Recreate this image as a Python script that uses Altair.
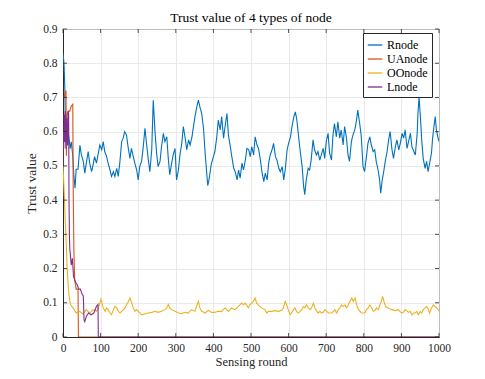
import altair as alt
import pandas as pd

# ---------------- data ----------------
r_rounds = [0, 1, 3, 5, 6, 9, 12, 15, 19, 22, 26, 29, 32, 35, 40, 45, 49, 54, 58, 62, 67, 71, 76, 80, 84, 89, 94, 98,
            103, 107, 111, 116, 120, 125, 129, 134, 138, 143, 147, 151, 156, 160, 164, 169, 173, 178, 182, 187, 191,
            196, 200, 204, 209, 213, 218, 222, 227, 231, 236, 240, 245, 249, 253, 258, 262, 267, 271, 276, 280, 284,
            289, 293, 298, 302, 307, 311, 316, 320, 325, 329, 334, 338, 343, 347, 351, 356, 360, 365, 369, 374, 378,
            383, 385, 389, 394, 400, 404, 409, 413, 418, 422, 427, 431, 436, 440, 445, 449, 454, 458, 463, 467, 471,
            476, 480, 485, 489, 494, 498, 502, 507, 511, 516, 520, 525, 529, 534, 538, 543, 547, 551, 556, 560, 565,
            569, 574, 578, 583, 587, 591, 596, 600, 605, 609, 614, 618, 622, 627, 631, 636, 640, 643, 647, 652, 656,
            660, 665, 669, 674, 678, 683, 687, 692, 696, 700, 705, 709, 714, 718, 722, 727, 731, 736, 740, 745, 749,
            754, 758, 762, 767, 771, 776, 780, 784, 789, 793, 798, 802, 807, 811, 816, 820, 825, 829, 833, 838, 842,
            845, 849, 853, 857, 862, 866, 870, 875, 879, 884, 888, 893, 897, 902, 906, 910, 915, 919, 924, 928, 933,
            937, 942, 944, 947, 951, 954, 958, 963, 967, 971, 976, 980, 983, 986, 990, 993, 997, 1000]
r_values = [0.83, 0.82, 0.79, 0.72, 0.62, 0.555, 0.58, 0.59, 0.55, 0.57, 0.53, 0.47, 0.435, 0.49, 0.49, 0.56, 0.532,
            0.513, 0.479, 0.508, 0.542, 0.508, 0.483, 0.503, 0.527, 0.508, 0.537, 0.561, 0.547, 0.571, 0.542, 0.527,
            0.508, 0.488, 0.469, 0.483, 0.469, 0.493, 0.469, 0.508, 0.571, 0.581, 0.600, 0.590, 0.556, 0.522, 0.551,
            0.527, 0.508, 0.488, 0.459, 0.498, 0.513, 0.551, 0.610, 0.566, 0.517, 0.483, 0.547, 0.692, 0.595, 0.537,
            0.498, 0.513, 0.556, 0.595, 0.571, 0.585, 0.522, 0.474, 0.508, 0.532, 0.551, 0.459, 0.488, 0.532, 0.566,
            0.615, 0.581, 0.547, 0.576, 0.561, 0.585, 0.615, 0.644, 0.673, 0.692, 0.668, 0.653, 0.605, 0.537, 0.469,
            0.442, 0.464, 0.503, 0.527, 0.542, 0.585, 0.634, 0.605, 0.644, 0.581, 0.615, 0.653, 0.590, 0.556, 0.527,
            0.493, 0.483, 0.459, 0.488, 0.464, 0.508, 0.488, 0.517, 0.551, 0.547, 0.527, 0.556, 0.532, 0.585, 0.561,
            0.551, 0.517, 0.483, 0.454, 0.479, 0.459, 0.508, 0.532, 0.547, 0.566, 0.527, 0.517, 0.493, 0.483, 0.498,
            0.459, 0.488, 0.547, 0.566, 0.585, 0.615, 0.644, 0.658, 0.634, 0.581, 0.542, 0.498, 0.440, 0.416, 0.459,
            0.493, 0.488, 0.517, 0.576, 0.547, 0.532, 0.542, 0.517, 0.532, 0.551, 0.522, 0.571, 0.595, 0.537, 0.517,
            0.590, 0.624, 0.585, 0.629, 0.581, 0.605, 0.561, 0.615, 0.581, 0.532, 0.513, 0.571, 0.590, 0.605, 0.629,
            0.663, 0.624, 0.590, 0.498, 0.483, 0.527, 0.566, 0.585, 0.561, 0.542, 0.547, 0.513, 0.488, 0.459, 0.420,
            0.459, 0.483, 0.513, 0.542, 0.576, 0.600, 0.547, 0.522, 0.556, 0.576, 0.547, 0.566, 0.595, 0.581, 0.605,
            0.551, 0.571, 0.595, 0.556, 0.542, 0.532, 0.595, 0.653, 0.702, 0.634, 0.576, 0.522, 0.493, 0.513, 0.483,
            0.513, 0.537, 0.581, 0.610, 0.644, 0.605, 0.585, 0.571]

ua_rounds = [0, 3, 6, 8, 9, 11, 14, 18, 22, 26, 27, 29, 31, 35, 40, 41, 1000]
ua_values = [0.70, 0.70, 0.715, 0.72, 0.53, 0.65, 0.66, 0.66, 0.675, 0.68, 0.45, 0.25, 0.17, 0.14, 0.14, 0.0, 0.0]

oo_rounds = [0, 2, 4, 6, 9, 11, 13, 16, 20, 27, 35, 44, 53, 62, 71, 80, 89, 94, 97, 101, 107, 112, 116, 120, 125,
             129, 134, 138, 143, 147, 152, 156, 161, 165, 169, 174, 178, 183, 187, 191, 196, 200, 205, 209, 218, 227,
             236, 245, 253, 262, 271, 276, 280, 284, 289, 298, 307, 315, 324, 333, 342, 351, 355, 360, 364, 369, 378,
             386, 395, 404, 413, 422, 426, 431, 440, 448, 457, 466, 475, 480, 484, 488, 493, 497, 506, 511, 515, 519,
             528, 537, 542, 546, 555, 564, 573, 582, 586, 591, 595, 599, 604, 608, 613, 617, 621, 626, 635, 639, 643,
             648, 652, 657, 661, 666, 670, 675, 679, 683, 688, 692, 697, 706, 715, 719, 723, 728, 732, 736, 741, 745,
             750, 754, 759, 763, 768, 772, 777, 781, 786, 790, 794, 803, 807, 812, 816, 821, 825, 830, 834, 839, 843,
             848, 850, 855, 858, 865, 874, 883, 892, 896, 901, 905, 910, 919, 923, 928, 932, 936, 941, 945, 950, 954,
             958, 963, 967, 972, 975, 980, 985, 989, 994, 998, 1000]
oo_values = [0.50, 0.45, 0.40, 0.34, 0.265, 0.20, 0.165, 0.12, 0.095, 0.085, 0.07, 0.075, 0.068, 0.08, 0.07, 0.08,
             0.075, 0.085, 0.095, 0.11, 0.085, 0.075, 0.085, 0.08, 0.07, 0.065, 0.08, 0.09, 0.085, 0.075, 0.07, 0.075,
             0.08, 0.085, 0.094, 0.104, 0.114, 0.099, 0.085, 0.075, 0.08, 0.075, 0.07, 0.065, 0.068, 0.07, 0.072,
             0.075, 0.072, 0.075, 0.08, 0.085, 0.095, 0.085, 0.08, 0.075, 0.07, 0.068, 0.072, 0.07, 0.08, 0.075, 0.089,
             0.104, 0.085, 0.075, 0.07, 0.078, 0.072, 0.072, 0.075, 0.075, 0.08, 0.085, 0.075, 0.085, 0.08, 0.089,
             0.099, 0.094, 0.099, 0.094, 0.085, 0.094, 0.104, 0.114, 0.099, 0.094, 0.085, 0.08, 0.07, 0.075, 0.075,
             0.077, 0.075, 0.078, 0.085, 0.104, 0.094, 0.08, 0.065, 0.07, 0.08, 0.085, 0.075, 0.07, 0.08, 0.089, 0.085,
             0.094, 0.085, 0.08, 0.085, 0.099, 0.085, 0.075, 0.07, 0.075, 0.07, 0.072, 0.08, 0.07, 0.07, 0.075, 0.08,
             0.07, 0.08, 0.085, 0.094, 0.089, 0.094, 0.085, 0.094, 0.104, 0.114, 0.104, 0.114, 0.094, 0.08, 0.075,
             0.07, 0.07, 0.08, 0.085, 0.094, 0.085, 0.075, 0.078, 0.085, 0.08, 0.094, 0.109, 0.119, 0.099, 0.089,
             0.085, 0.08, 0.077, 0.08, 0.075, 0.07, 0.072, 0.08, 0.072, 0.075, 0.065, 0.07, 0.07, 0.075, 0.065, 0.075,
             0.07, 0.08, 0.085, 0.089, 0.08, 0.07, 0.085, 0.094, 0.089, 0.085, 0.08, 0.075]

l_rounds = [0, 1, 2, 3, 5, 6, 8, 10, 12, 14, 15, 16, 17, 18, 20, 22, 25, 28, 33, 37, 42, 46, 51, 54, 56, 58, 62, 68,
            75, 82, 89, 93, 94, 1000]
l_values = [0.50, 0.60, 0.55, 0.65, 0.57, 0.66, 0.55, 0.64, 0.56, 0.66, 0.65, 0.40, 0.30, 0.26, 0.235, 0.21, 0.23,
            0.177, 0.16, 0.155, 0.14, 0.14, 0.125, 0.12, 0.05, 0.045, 0.06, 0.07, 0.065, 0.07, 0.09, 0.095, 0.0, 0.0]

series_names = ["Rnode", "UAnode", "OOnode", "Lnode"]
series_colors = ["#0072BD", "#D95319", "#EDB120", "#7E2F8E"]

x_ticks = [0, 100, 200, 300, 400, 500, 600, 700, 800, 900, 1000]
y_ticks = [0, 0.1, 0.2, 0.3, 0.4, 0.5, 0.6, 0.7, 0.8, 0.9]

# ---------------- build tables ----------------
rows = []
for name, rr, vv in [("Rnode", r_rounds, r_values), ("UAnode", ua_rounds, ua_values),
                     ("OOnode", oo_rounds, oo_values), ("Lnode", l_rounds, l_values)]:
    for a, b in zip(rr, vv):
        rows.append({"round": a, "value": b, "node": name})
df = pd.DataFrame(rows)
xt = pd.DataFrame({"t": x_ticks})
yt = pd.DataFrame({"t": y_ticks})

FONT = "Liberation Serif"
W, H = 376, 308
AX = "#262626"

xscale = alt.Scale(domain=[0, 1000], nice=False, zero=False)
yscale = alt.Scale(domain=[0, 0.9], nice=False)

x_axis = alt.Axis(values=x_ticks, title="Sensing round", grid=True, gridColor="#e3e3e3",
                  gridWidth=0.8, tickSize=0, labelPadding=5, labelFont=FONT, labelFontSize=11.5,
                  labelColor=AX, titleFont=FONT, titleFontSize=12.5, titleFontWeight="normal",
                  titleColor=AX, titlePadding=2, domainColor=AX, domainWidth=1, labelFlush=False,
                  format="d")
y_axis = alt.Axis(values=y_ticks, title="Trust value", grid=True, gridColor="#e3e3e3",
                  gridWidth=0.8, tickSize=0, labelPadding=6, labelFont=FONT, labelFontSize=11.5,
                  labelColor=AX, titleFont=FONT, titleFontSize=13.5, titleFontWeight="normal",
                  titleColor=AX, titlePadding=4, domainColor=AX, domainWidth=1,
                  format="~g", labelFlush=False)

x_enc = alt.X("round:Q", scale=xscale, axis=x_axis)
y_enc = alt.Y("value:Q", scale=yscale, axis=y_axis)

color_enc = alt.Color("node:N", scale=alt.Scale(domain=series_names, range=series_colors),
                      legend=alt.Legend(orient="none", legendX=300, legendY=4, title=None,
                                        fillColor="white", strokeColor=AX, padding=4,
                                        symbolType="stroke", symbolSize=210, symbolStrokeWidth=1.3,
                                        labelFont=FONT, labelFontSize=12, labelColor="#000000",
                                        rowPadding=0, labelOffset=4))

layers = []
for name in series_names:
    layers.append(
        alt.Chart(df).transform_filter(alt.datum.node == name)
        .mark_line(strokeWidth=1.1, clip=True)
        .encode(x=x_enc, y=y_enc, color=color_enc, order="round:Q")
    )

tick_len = 4
tb = alt.Chart(xt).mark_rule(color=AX, strokeWidth=0.8).encode(
    x=alt.X("t:Q", scale=xscale, axis=x_axis), y=alt.value(H), y2=alt.value(H - tick_len))
tt = alt.Chart(xt).mark_rule(color=AX, strokeWidth=0.8).encode(
    x=alt.X("t:Q", scale=xscale, axis=x_axis), y=alt.value(0), y2=alt.value(tick_len))
tl = alt.Chart(yt).mark_rule(color=AX, strokeWidth=0.8).encode(
    y=alt.Y("t:Q", scale=yscale, axis=y_axis), x=alt.value(0), x2=alt.value(tick_len))
tr = alt.Chart(yt).mark_rule(color=AX, strokeWidth=0.8).encode(
    y=alt.Y("t:Q", scale=yscale, axis=y_axis), x=alt.value(W), x2=alt.value(W - tick_len))

chart = alt.layer(*layers, tb, tt, tl, tr).properties(
    width=W, height=H,
    title=alt.TitleParams("Trust value of 4 types of node", font=FONT, fontSize=13.5,
                          fontWeight="normal", color="#000000", offset=7, frame="group", dy=8),
    autosize=alt.AutoSizeParams(type="none"),
    padding={"left": 55, "top": 21, "right": 30, "bottom": 35},
).configure(background="white", font=FONT).configure_view(stroke=AX, strokeWidth=1).configure_legend(
    labelFont=FONT
).configure_axis(labelFont=FONT, titleFont=FONT)

chart.save("out.html", embed_options={"renderer": "svg", "actions": False})
